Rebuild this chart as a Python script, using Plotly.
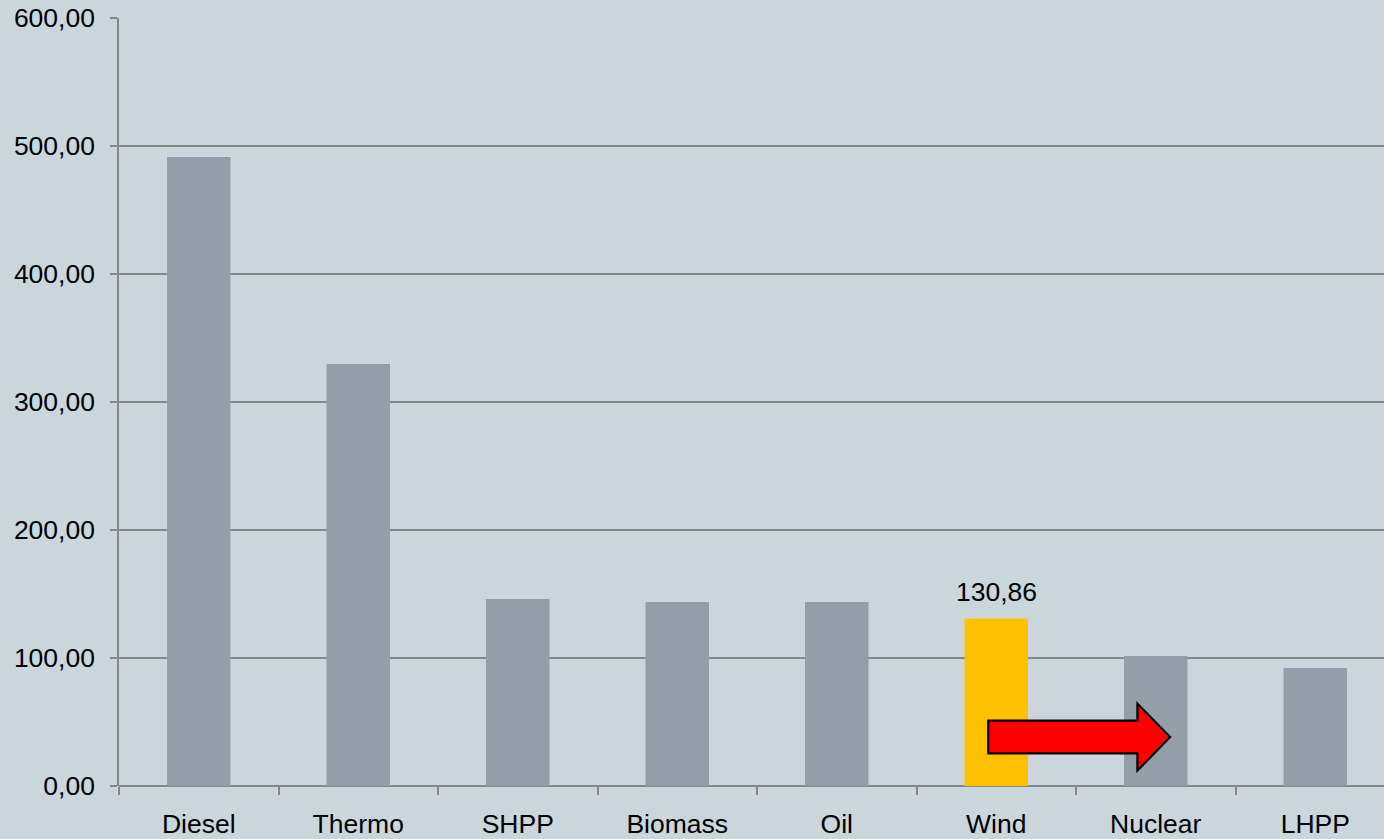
import plotly.graph_objects as go

# Generation cost by source
categories = ["Diesel", "Thermo", "SHPP", "Biomass", "Oil", "Wind", "Nuclear", "LHPP"]
values = [491.4, 329.7, 146.1, 143.8, 143.8, 130.86, 101.6, 92.2]
highlight = "Wind"
y_ticks = [0, 100, 200, 300, 400, 500, 600]

BG = "#CBD6DC"
BAR = "#949EA9"
HL = "#FFC000"
GRID = "#878787"
FONT = "Liberation Sans, Arial, sans-serif"
FS = 26.5

colors = [HL if c == highlight else BAR for c in categories]

fig = go.Figure(
    go.Bar(
        x=categories,
        y=values,
        marker=dict(color=colors, line=dict(width=0)),
        width=0.398,
        hoverinfo="x+y",
    )
)

hi = categories.index(highlight)
hv = values[hi]
fig.add_annotation(
    x=highlight, y=hv, text=f"{hv:.2f}".replace(".", ","),
    showarrow=False, yanchor="bottom", yshift=10,
    font=dict(family=FONT, size=FS, color="black"),
)

# Red block arrow from the highlighted bar towards the next one
x0 = hi - 0.05
xs = hi + 0.885
xt = hi + 1.09
path = (
    f"M {x0},25.5 L {xs},25.5 L {xs},12 L {xt},38.3 "
    f"L {xs},64.3 L {xs},51 L {x0},51 Z"
)
fig.add_shape(
    type="path", path=path, xref="x", yref="y",
    fillcolor="#FF0000", line=dict(color="black", width=2.2), layer="above",
)

fig.update_layout(
    width=1384, height=839,
    margin=dict(l=119, r=0, t=18, b=53),
    paper_bgcolor=BG, plot_bgcolor=BG,
    separators=",.",
    showlegend=False,
    font=dict(family=FONT, size=FS, color="black"),
)
fig.update_xaxes(
    type="category",
    range=[-0.5, 7.431],
    tickson="boundaries",
    ticks="outside", ticklen=8, tickwidth=1.5, tickcolor=GRID,
    showline=False, showgrid=False,
    ticklabelstandoff=19,
    tickfont=dict(family=FONT, size=FS, color="black"),
)
fig.update_yaxes(
    range=[0, 600],
    tickvals=y_ticks,
    tickformat=".2f",
    ticks="outside", ticklen=7, tickwidth=1.5, tickcolor=GRID,
    showline=True, linecolor=GRID, linewidth=1.5,
    showgrid=True, gridcolor=GRID, gridwidth=1.5,
    zeroline=True, zerolinecolor=GRID, zerolinewidth=1.5,
    ticklabelstandoff=10,
    tickfont=dict(family=FONT, size=FS, color="black"),
)

fig.write_html("out.html")
